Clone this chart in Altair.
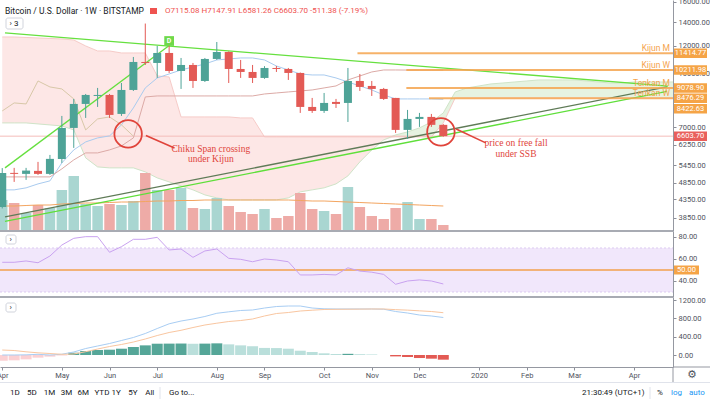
import json
import altair as alt
import pandas as pd

FONT = "Roboto"
SERIF = "Liberation Serif"
INK = "#131722"
AXIS_INK = "#50535e"
UP, DOWN = "#4ea397", "#e35a55"
VOL_UP, VOL_DOWN = "#a9d6d1", "#eeaba7"
ORANGE = "#f5a54f"
NOTE_RED = "#e0443b"

# ---------------- weekly BTC/USD candles, Bitstamp (week 0 = 8 Apr 2019, week 36 = 16 Dec 2019)
WEEKS = list(range(-1, 37))
OPEN = [4140, 5183, 5149, 5252, 5149, 5685, 6973, 8168, 8610, 8667, 7647, 8957, 10773, 10702,
        11432, 10152, 10562, 9504, 10989, 11507, 10287, 10086, 9696, 10355, 10287, 10020, 8008,
        7800, 8277, 8222, 9504, 9197, 9017, 8498, 6882, 7399, 7498, 7115.08]
HIGH = [5350, 5357, 5357, 5573, 5835, 7547, 8442, 8723, 9077, 8723, 9378, 11135, 13880, 11970,
        12700, 11061, 10702, 11061, 12290, 11550, 10917, 10562, 10480, 10492, 10355, 10050, 8498,
        8781, 8442, 10355, 9954, 9504, 9077, 8500, 7851, 7698, 7647, 7147.91]
LOW = [4100, 4884, 4949, 5115, 5115, 5536, 6112, 7448, 8008, 7448, 7547, 8898, 10560, 9694,
       10020, 9017, 9077, 9441, 10917, 9378, 9696, 9378, 9640, 10086, 9568, 7698, 7698,
       7698, 7955, 7253, 8898, 8610, 8386, 6746, 6485, 7019, 7020, 6581.26]
CLOSE = [5180, 5149, 5263, 5149, 5685, 6973, 8168, 8667, 8667, 7597, 8957, 10773, 10702, 11432,
         10152, 10562, 9504, 10989, 11507, 10287, 10086, 9696, 10355, 10287, 10020, 8008, 7800,
         8222, 8168, 9504, 9137, 9017, 8442, 6882, 7399, 7498, 7115.08, 6603.70]
VOLUME = [93, 84, 54, 78, 69, 123, 165, 81, 75, 81, 78, 90, 174, 123, 123, 129, 69, 66, 99, 75,
          57, 51, 66, 39, 45, 114, 66, 60, 51, 132, 72, 45, 36, 69, 87, 36, 36, 18]  # thousand BTC
VOLUME_MA = [75, 75, 76.5, 78, 78, 81, 82.5, 84, 84, 85.5, 87, 87, 88.5, 90, 90, 91.5, 91.5, 93,
             93, 93, 93, 93, 93, 93, 93, 91.5, 90, 90, 88.5, 87, 85.5, 84, 82.5, 81, 79.5, 78,
             76.5, 75]
TENKAN = [4634, 4634, 4696, 4820, 4917, 5536, 6032, 6358, 6528, 6615, 7112, 7955, 9077, 9694,
          9954, 10219, 10424, 10632, 10917, 10989, 11061, 11061, 10917, 10492, 10219, 9954, 9888,
          9888, 9694, 9442, 9197, 8957, 8667, 8442, 8442, 8442, 8442, 8422.63]
KIJUN = [5048, 5048, 5048, 5048, 5048, 5322, 5647, 5913, 5913, 6032, 6192, 6528, 8553, 8610,
         8610, 8610, 8610, 8610, 8610, 8610, 8610, 8610, 8723, 8781, 8840, 8898, 8957, 9077,
         9197, 9568, 9824, 10086, 10219, 10219, 10212, 10212, 10212, 10211.98]
RSI = [57.0, 57.0, 58.2, 56.6, 62.7, 72.7, 78.8, 80.3, 80.3, 66.1, 71.2, 77.9, 77.9, 79.7, 68.2,
       69.1, 61.5, 67.3, 69.1, 60.6, 59.7, 57.5, 60.0, 59.1, 57.5, 45.5, 45.5, 46.0, 45.5, 52.0,
       49.0, 48.0, 46.0, 37.0, 40.0, 41.0, 40.0, 37.3]
MACD = [0, 0, 4, 15, 0, 17, 66, 142, 197, 251, 317, 383, 470, 579, 682, 743, 787, 842, 912, 944,
        973, 984, 1027, 1060, 1071, 1071, 1027, 1010, 1006, 1006, 1006, 1006, 1001, 951, 918,
        874, 853, 820]
SIGNAL = [109, 98, 70, 48, 33, 15, 22, 72, 131, 186, 230, 284, 350, 426, 492, 540, 601, 656, 695,
          732, 754, 787, 853, 907, 929, 962, 979, 995, 999, 1001, 1003, 1006, 1006, 992, 981,
          966, 951, 925]
HIST = [-125, -116, -95, -58, -36, -8, 50, 87, 109, 116, 138, 175, 211, 247, 249, 251, 246, 249,
        255, 233, 211, 192, 155, 152, 138, 94, 66, 37, 22, 26, 18, 12, 0, -30, -44, -66, -80, -102]

# Ichimoku leading spans (already shifted 26 weeks ahead)
CLOUD_WEEKS = list(range(-1, 57))
SENKOU_A = [7206, 7206, 7206, 7159, 7112, 7065, 6882, 5722, 5392, 5357,
            5357, 5357, 5218, 5015, 4884, 4757, 4634, 4483, 4395, 4338,
            4338, 4338, 4338, 4338, 4395, 4573, 4634, 4696, 4820, 5081,
            5573, 6032, 6442, 6659, 6791, 6973, 7254, 7698, 8840, 9077,
            9197, 9320, 9379, 9442, 9504, 9568, 9568, 9568, 9568, 9504,
            9442, 9379, 9379, 9442, 9442, 9442, 9442, 9442]
SENKOU_B = [12704, 12704, 12662, 12620, 12579, 12537, 12455, 11973, 11584, 11584,
            11432, 11432, 11432, 9824, 9759, 7497, 7497, 7497, 7497, 7497,
            7448, 7448, 6571, 6571, 6571, 6571, 6571, 6571, 6571, 6571,
            6571, 6571, 6571, 6571, 6571, 6571, 6571, 7206, 8501, 8501,
            8501, 8501, 8501, 8501, 8501, 8501, 8501, 8501, 8501, 8501,
            8501, 8501, 8501, 8501, 8501, 8501, 8501, 8501]

AXIS_WEEKS = [-1, 4, 8, 12, 17, 21, 26, 30, 34, 39, 43, 47, 52]
AXIS_MONTHS = ["Apr", "May", "Jun", "Jul", "Aug", "Sep", "Oct", "Nov", "Dec", "2020", "Feb", "Mar", "Apr"]
PRICE_TICKS = [3850, 4350, 4850, 5450, 6250, 7000, 10000, 12000, 14000, 16000]
RSI_TICKS = [40, 60, 80]
RSI_BAND = [30, 70]
RSI_MID = 50
MACD_TICKS = [0, 400, 800, 1200]

LEVEL_NAMES = ["Kijun M", "Kijun W", "Tenkan M", "Tenkan W"]
LEVEL_FROM = [28.8, 32.9, 32.9, 34.8]
LEVEL_PRICE = [11414.77, 10211.98, 9078.90, 8476.29]

# hand-drawn trend lines, (week, price) end points
TREND_STEEP = [(-0.77, 5357), (12.95, 11973)]
TREND_DOWN = [(-0.77, 13043), (54.85, 9190)]
TREND_UP_DARK = [(-0.77, 3879), (54.77, 9137)]
TREND_UP_GREEN = [(-0.77, 3765), (54.77, 8869)]

FLAG_WEEK, FLAG_PRICE, FLAG_TEXT = 13, 12370, "D"

NOTE_CIRCLES = [(9.56, 6702), (35.8, 6791)]
NOTE_LEADERS = [[(11.05, 6637), (13.45, 6112)], [(37.08, 6926), (39.56, 6317)]]
NOTE_TEXT = [("Chiku Span crossing", 16.5, 6083), ("under Kijun", 16.5, 5666),
             ("price on free fall", 42.1, 6294), ("under SSB", 42.1, 5855)]

SYMBOL = "Bitcoin / U.S. Dollar · 1W · BITSTAMP"
RANGES = ["1D", "5D", "1M", "3M", "6M", "YTD", "1Y", "5Y", "All"]
GOTO = "Go to..."
CLOCK = "21:30:49 (UTC+1)"

chg = CLOSE[-1] - CLOSE[-2]
pct = chg / CLOSE[-2] * 100
OHLC_TEXT = (f"O{OPEN[-1]:.2f} H{HIGH[-1]:.2f} L{LOW[-1]:.2f} C{CLOSE[-1]:.2f} "
             f"{chg:.2f} ({pct:.2f}%)")

# ---------------- layout
PLOT_W, PLOT_H = 673, 367
X_DOMAIN = [-0.7686, 54.85]
TAG_H = 9.5

candles = pd.DataFrame(dict(i=WEEKS, open=OPEN, high=HIGH, low=LOW, close=CLOSE,
                            volume=VOLUME, vol_ma=VOLUME_MA, tenkan=TENKAN, kijun=KIJUN,
                            rsi=RSI, macd=MACD, signal=SIGNAL, hist=HIST))
cloud_df = pd.DataFrame(dict(i=CLOUD_WEEKS, ssa=SENKOU_A, ssb=SENKOU_B))

axis_style = dict(grid=False, title=None, labelFont=FONT, labelFontSize=7.5, labelColor=AXIS_INK,
                  tickColor="#8c8f99", domainColor="#9598a1", tickSize=3, labelPadding=2,
                  labelOverlap=False, labelFlush=False, labelBound=False)

X_AXIS = alt.Axis(orient="bottom", values=AXIS_WEEKS,
                  labelExpr=f"{json.dumps(AXIS_MONTHS)}[indexof({json.dumps(AXIS_WEEKS)}, datum.value)]",
                  **{**axis_style, "labelPadding": 1})
X_SCALE = alt.Scale(domain=X_DOMAIN, nice=False, zero=False)


def X(field="i"):
    return alt.X(f"{field}:Q", scale=X_SCALE, axis=X_AXIS)


PRICE_SCALE = alt.Scale(type="log", domain=[3533, 16212], range=[231, 0], nice=False, zero=False)
PRICE_AXIS = alt.Axis(orient="right", values=PRICE_TICKS, format=".2f", **axis_style)


def PY(field, axis=True):
    return alt.Y(f"{field}:Q", scale=PRICE_SCALE, axis=PRICE_AXIS if axis else None)


VOL_SCALE = alt.Scale(domain=[0, 693], range=[231, 0], nice=False, zero=False)
RSI_SCALE = alt.Scale(domain=[25.45, 85.45], range=[297, 231], nice=False, zero=False)
RSI_AXIS = alt.Axis(orient="right", values=RSI_TICKS, format=".2f", **axis_style)
MACD_SCALE = alt.Scale(domain=[-262, 1268], range=[367, 297], nice=False, zero=False)
MACD_AXIS = alt.Axis(orient="right", values=MACD_TICKS, format=".2f", **axis_style)

ONE = alt.Data(values=[{}])
is_up = "datum.close >= datum.open"

# ---------------- Ichimoku cloud (background)
cloud = alt.Chart(cloud_df).transform_calculate(
    pink_lo="min(datum.ssa, datum.ssb)", green_hi="max(datum.ssa, datum.ssb)")
cloud_group = alt.layer(
    cloud.mark_area(color="#fde7e6", clip=True).encode(x=X(), y=PY("ssb", False), y2="pink_lo:Q"),
    cloud.mark_area(color="#e6f3e1", clip=True).encode(x=X(), y=PY("green_hi", False), y2="ssb:Q"),
    cloud.mark_line(color="#f6cbc8", strokeWidth=1, clip=True).encode(x=X(), y=PY("ssb", False)),
    cloud.mark_line(color="#cfe4c8", strokeWidth=1, clip=True).encode(x=X(), y=PY("ssa", False)),
)

# ---------------- volume
cand = alt.Chart(candles)
vol_group = alt.layer(
    cand.mark_bar(size=10.5, clip=True).encode(
        x=X(), y=alt.Y("volume:Q", scale=VOL_SCALE, axis=None), y2=alt.datum(0),
        color=alt.condition(is_up, alt.value(VOL_UP), alt.value(VOL_DOWN))),
    cand.mark_line(color="#f3a560", strokeWidth=1, clip=True).encode(
        x=X(), y=alt.Y("vol_ma:Q", scale=VOL_SCALE, axis=None)),
)


# ---------------- price pane
def trend(points, color, width=1.3):
    df = pd.DataFrame(points, columns=["i", "p"])
    return alt.Chart(df).mark_line(color=color, strokeWidth=width, clip=True).encode(x=X(), y=PY("p"))


last_close = pd.DataFrame({"p": [CLOSE[-1]]})
levels = pd.DataFrame({"name": LEVEL_NAMES, "i": LEVEL_FROM, "p": LEVEL_PRICE})
tenkan_tag = pd.DataFrame({"p": [TENKAN[-1]]})
flag = pd.DataFrame({"i": [FLAG_WEEK], "p": [FLAG_PRICE], "t": [FLAG_TEXT]})
circles = pd.DataFrame(NOTE_CIRCLES, columns=["i", "p"])
leaders = pd.DataFrame([dict(seg=k, i=w, p=v) for k, seg in enumerate(NOTE_LEADERS) for w, v in seg])
notes = pd.DataFrame(NOTE_TEXT, columns=["t", "i", "p"])

price_group = alt.layer(
    alt.Chart(last_close).mark_rule(color="#f4bcba", strokeWidth=1).encode(
        x=alt.value(0), x2=alt.value(PLOT_W), y=PY("p")),
    cand.mark_line(color="#a9cbef", strokeWidth=1, clip=True).encode(x=X(), y=PY("tenkan")),
    cand.mark_line(color="#dcaaa6", strokeWidth=1, clip=True).encode(x=X(), y=PY("kijun")),
    cand.transform_calculate(ci="datum.i - 26").transform_filter("datum.ci >= -1").mark_line(
        color="#d8c8a8", strokeWidth=1, clip=True).encode(x=X("ci"), y=PY("close")),
    trend(TREND_UP_DARK, "#5f7b57"),
    trend(TREND_UP_GREEN, "#5fdf3a"),
    trend(TREND_DOWN, "#66e03f"),
    trend(TREND_STEEP, "#66e03f"),
    cand.mark_rule(strokeWidth=1, clip=True).encode(
        x=X(), y=PY("low"), y2="high:Q",
        color=alt.condition(is_up, alt.value(UP), alt.value(DOWN))),
    cand.mark_bar(size=8, clip=True).encode(
        x=X(), y=PY("open"), y2="close:Q",
        color=alt.condition(is_up, alt.value(UP), alt.value(DOWN))),
    alt.Chart(levels).mark_rule(color=ORANGE, strokeWidth=2, opacity=0.85).encode(
        x=X(), x2=alt.value(PLOT_W), y=PY("p")),
    alt.Chart(levels).mark_text(align="right", baseline="middle", dy=-5, font=FONT, fontSize=8.5,
                                color=ORANGE).encode(x=alt.value(670), y=PY("p"), text="name:N"),
    alt.Chart(flag).mark_square(size=95, color="#6fd94a", opacity=1).encode(x=X(), y=PY("p")),
    alt.Chart(flag).mark_text(font=FONT, fontSize=7, fontWeight="bold", color="white").encode(
        x=X(), y=PY("p"), text="t:N"),
    alt.Chart(circles).mark_point(shape="circle", size=755, filled=False, strokeWidth=1.8,
                                  color=NOTE_RED, opacity=1).encode(x=X(), y=PY("p")),
    alt.Chart(leaders).mark_line(color=NOTE_RED, strokeWidth=1.6).encode(
        x=X(), y=PY("p"), detail="seg:N"),
    alt.Chart(notes).mark_text(font=SERIF, fontSize=9.5, color=NOTE_RED).encode(
        x=X(), y=PY("p"), text="t:N"),
    # price tags on the axis
    alt.Chart(levels).mark_rule(color="#f5a447", strokeWidth=TAG_H, strokeCap="butt").encode(
        x=alt.value(674), x2=alt.value(707), y=PY("p")),
    alt.Chart(levels).mark_text(font=FONT, fontSize=7.5, color="white").encode(
        x=alt.value(690.5), y=PY("p"), text=alt.Text("p:Q", format=".2f")),
    alt.Chart(tenkan_tag).mark_rule(color="#f5a447", strokeWidth=TAG_H, strokeCap="butt",
                                    yOffset=9.5).encode(
        x=alt.value(674), x2=alt.value(707), y=PY("p")),
    alt.Chart(tenkan_tag).mark_text(font=FONT, fontSize=7.5, color="white", dy=9.5).encode(
        x=alt.value(690.5), y=PY("p"), text=alt.Text("p:Q", format=".2f")),
    alt.Chart(last_close).mark_rule(color="#e9605c", strokeWidth=TAG_H, strokeCap="butt").encode(
        x=alt.value(674), x2=alt.value(707), y=PY("p")),
    alt.Chart(last_close).mark_text(font=FONT, fontSize=7.5, color="white").encode(
        x=alt.value(690.5), y=PY("p"), text=alt.Text("p:Q", format=".2f")),
)

# ---------------- RSI pane
band = pd.DataFrame({"hi": [RSI_BAND[1]], "lo": [RSI_BAND[0]]})
band_edges = pd.DataFrame({"v": RSI_BAND})
mid = pd.DataFrame({"v": [RSI_MID]})
rsi_group = alt.layer(
    alt.Chart(band).mark_rect(color="#f1e7fb").encode(
        x=alt.value(0), x2=alt.value(PLOT_W),
        y=alt.Y("hi:Q", scale=RSI_SCALE, axis=RSI_AXIS), y2="lo:Q"),
    alt.Chart(band_edges).mark_rule(color="#dccbf1", strokeDash=[2, 2], strokeWidth=1).encode(
        x=alt.value(0), x2=alt.value(PLOT_W), y=alt.Y("v:Q", scale=RSI_SCALE, axis=RSI_AXIS)),
    alt.Chart(mid).mark_rule(color="#f2a14c", strokeWidth=1.3).encode(
        x=alt.value(0), x2=alt.value(PLOT_W), y=alt.Y("v:Q", scale=RSI_SCALE, axis=RSI_AXIS)),
    cand.mark_line(color="#c9a2f0", strokeWidth=1, clip=True).encode(
        x=X(), y=alt.Y("rsi:Q", scale=RSI_SCALE, axis=RSI_AXIS)),
    alt.Chart(mid).mark_rule(color="#f5a447", strokeWidth=9, strokeCap="butt").encode(
        x=alt.value(674), x2=alt.value(699), y=alt.Y("v:Q", scale=RSI_SCALE, axis=RSI_AXIS)),
    alt.Chart(mid).mark_text(font=FONT, fontSize=7.5, color="white").encode(
        x=alt.value(686.5), y=alt.Y("v:Q", scale=RSI_SCALE, axis=RSI_AXIS),
        text=alt.Text("v:Q", format=".2f")),
)

# ---------------- MACD pane
hist_color = ("datum.hist >= 0 ? ((datum.prev == null || datum.hist >= datum.prev) ? '#55a698' : '#badfdb')"
              " : ((datum.prev == null || datum.hist >= datum.prev) ? '#fbd0d3' : '#e35a54')")
macd_group = alt.layer(
    cand.transform_window(prev="lag(hist)", sort=[alt.SortField("i")])
        .transform_calculate(shade=hist_color)
        .mark_bar(size=11, clip=True).encode(
            x=X(), y=alt.Y("hist:Q", scale=MACD_SCALE, axis=MACD_AXIS), y2=alt.datum(0),
            color=alt.Color("shade:N", scale=None)),
    cand.mark_line(color="#a8cdf3", strokeWidth=1, clip=True).encode(
        x=X(), y=alt.Y("macd:Q", scale=MACD_SCALE, axis=MACD_AXIS)),
    cand.mark_line(color="#f9c6a0", strokeWidth=1, clip=True).encode(
        x=X(), y=alt.Y("signal:Q", scale=MACD_SCALE, axis=MACD_AXIS)),
)


# ---------------- frame, header and toolbar
def rule_px(x, x2, y, y2=None, color="#9598a1", width=1):
    enc = dict(x=alt.value(x), x2=alt.value(x2), y=alt.value(y))
    if y2 is not None:
        enc["y2"] = alt.value(y2)
    return alt.Chart(ONE).mark_rule(color=color, strokeWidth=width).encode(**enc)


def text_px(s, x, y, size=8, color=INK, align="left", font=FONT):
    return alt.Chart(alt.Data(values=[{"t": s}])).mark_text(
        align=align, baseline="middle", fontSize=size, font=font, color=color).encode(
        x=alt.value(x), y=alt.value(y), text="t:N")


def box_px(x, x2, y, y2):
    return alt.Chart(ONE).mark_rect(fill="white", stroke="#d1d4dc", strokeWidth=1, cornerRadius=2).encode(
        x=alt.value(x), x2=alt.value(x2), y=alt.value(y), y2=alt.value(y2))


frame = [
    rule_px(0, PLOT_W, 231, color="#a8abb3", width=2),
    rule_px(0, PLOT_W, 297, color="#a8abb3", width=2),
    rule_px(PLOT_W, 710, 367, color="#9598a1"),
    rule_px(PLOT_W, PLOT_W, 367, 382, color="#9598a1"),
    rule_px(0, 710, 382.5, color="#e0e3eb"),
    rule_px(160, 160, 387, 399, color="#e0e3eb"),
    rule_px(650, 650, 387, 399, color="#e0e3eb"),
    text_px(SYMBOL, 5, 11, size=8.5),
    alt.Chart(ONE).mark_rect(color="#ef5350").encode(
        x=alt.value(150), x2=alt.value(157), y=alt.value(8), y2=alt.value(14)),
    text_px(OHLC_TEXT, 165, 11, size=8, color="#ef5350"),
    box_px(6, 23, 18, 29), text_px("›  3", 9.5, 23.5, size=8),
    box_px(6, 16, 235, 244), text_px("›", 9.5, 239.5, size=8),
    box_px(6, 16, 303, 312), text_px("›", 9.5, 307.5, size=8),
    text_px(GOTO, 169, 393, size=8),
    text_px(CLOCK, 582, 393, size=8),
    text_px("%", 657, 393, size=8),
    text_px("log", 671, 393, size=8, color="#2196f3"),
    text_px("auto", 689, 393, size=8, color="#2196f3"),
    text_px("⚙", 692, 374.5, size=11, color="#50535e", align="center", font="DejaVu Sans"),
]
for k, r in enumerate(RANGES):
    frame.append(text_px(r, 10 + 16.9 * k, 393, size=8))

chart = alt.layer(
    cloud_group, vol_group, price_group, rsi_group, macd_group, *frame
).resolve_scale(y="independent").properties(
    width=PLOT_W, height=PLOT_H,
    autosize=alt.AutoSizeParams(type="none"),
    padding={"left": 0, "top": 0, "right": 37, "bottom": 35},
    background="white",
).configure_view(stroke=None)

chart.save("out.html", embed_options={"renderer": "svg", "actions": False})
